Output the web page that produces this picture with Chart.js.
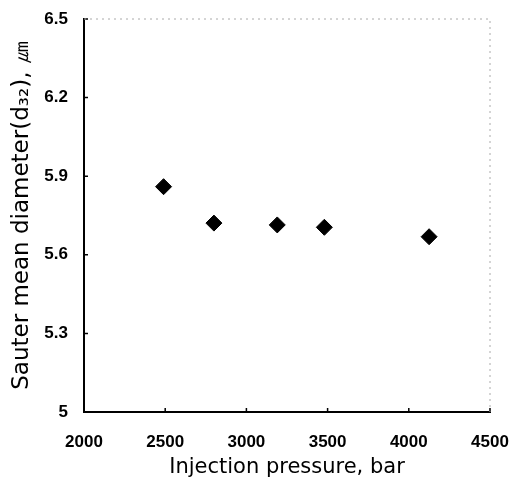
<!DOCTYPE html>
<html>
<head>
<meta charset="utf-8">
<script src="https://cdn.jsdelivr.net/npm/chart.js@4"></script>
<style>
  body { margin: 0; background: #fff; }
  #wrap { width: 511px; height: 480px; position: relative; }
</style>
</head>
<body>
<div id="wrap"><canvas id="smdCanvas"></canvas></div>
<script>
// values
const injectionPressure = [2490, 2800, 3190, 3480, 4125];
const sauterDiameter = [5.86, 5.721, 5.714, 5.705, 5.669];
const xTicks = [2000, 2500, 3000, 3500, 4000, 4500];
const yTicks = [5, 5.3, 5.6, 5.9, 6.2, 6.5];

const tickFont = { family: 'Liberation Sans, Arial, sans-serif', size: 17, weight: 'bold' };

// inward tick marks + the faint dotted top/right frame
const framePlugin = {
    id: 'frame',
    afterDraw(chart) {
        const ctx = chart.ctx;
        const area = chart.chartArea;
        const xs = chart.scales.x;
        const ys = chart.scales.y;
        ctx.save();
        ctx.strokeStyle = '#000';
        ctx.lineWidth = 1.5;
        ctx.beginPath();
        xTicks.forEach(v => {
            const px = xs.getPixelForValue(v);
            ctx.moveTo(px, area.bottom);
            ctx.lineTo(px, area.bottom - 4);
        });
        yTicks.forEach(v => {
            const py = ys.getPixelForValue(v);
            ctx.moveTo(area.left, py);
            ctx.lineTo(area.left + 4, py);
        });
        ctx.stroke();

        ctx.strokeStyle = '#aaa';
        ctx.lineWidth = 1;
        ctx.setLineDash([2, 4]);
        ctx.beginPath();
        ctx.moveTo(area.left, area.top);
        ctx.lineTo(area.right, area.top);
        ctx.lineTo(area.right, area.bottom);
        ctx.stroke();
        ctx.restore();
    }
};

const ctx = document.getElementById('smdCanvas').getContext('2d');
const chart = new Chart(ctx, {
    type: 'scatter',
    data: {
        datasets: [{
            data: injectionPressure.map((p, i) => ({ x: p, y: sauterDiameter[i] })),
            pointStyle: 'rectRot',
            pointRadius: 8,
            backgroundColor: '#000',
            borderColor: '#000',
            borderWidth: 1
        }]
    },
    options: {
        responsive: true,
        maintainAspectRatio: false,
        animation: false,
        layout: { padding: { left: 0, right: 21, top: 19, bottom: 0 } },
        plugins: {
            legend: { display: false },
            tooltip: { enabled: false }
        },
        scales: {
            x: {
                type: 'linear',
                min: 2000,
                max: 4500,
                afterBuildTicks: scale => { scale.ticks = xTicks.map(v => ({ value: v })); },
                afterFit: scale => {
                    scale.height = 68;
                    scale.paddingLeft = 0;
                    scale.paddingRight = 0;
                },
                grid: { display: false, drawTicks: false },
                border: { display: true, color: '#000', width: 2 },
                ticks: {
                    color: '#000',
                    font: tickFont,
                    padding: 20,
                    maxRotation: 0,
                    callback: v => String(v)
                },
                title: {
                    display: true,
                    text: 'Injection pressure, bar',
                    color: '#000',
                    font: { family: 'DejaVu Sans, Verdana, sans-serif', size: 21, lineHeight: 1 },
                    padding: { top: 0, bottom: 2 }
                }
            },
            y: {
                type: 'linear',
                min: 5,
                max: 6.5,
                afterBuildTicks: scale => { scale.ticks = yTicks.map(v => ({ value: v })); },
                afterFit: scale => {
                    scale.width = 84;
                    scale.paddingTop = 0;
                    scale.paddingBottom = 0;
                },
                grid: { display: false, drawTicks: false },
                border: { display: true, color: '#000', width: 2 },
                ticks: {
                    color: '#000',
                    font: tickFont,
                    padding: 16,
                    callback: v => String(+v.toFixed(1))
                },
                title: {
                    display: true,
                    text: 'Sauter mean diameter(d₃₂), ㎛',
                    color: '#000',
                    font: { family: 'DejaVu Sans, Verdana, sans-serif', size: 23 },
                    padding: { top: 8, bottom: 0 }
                }
            }
        }
    },
    plugins: [framePlugin]
});
</script>
</body>
</html>
